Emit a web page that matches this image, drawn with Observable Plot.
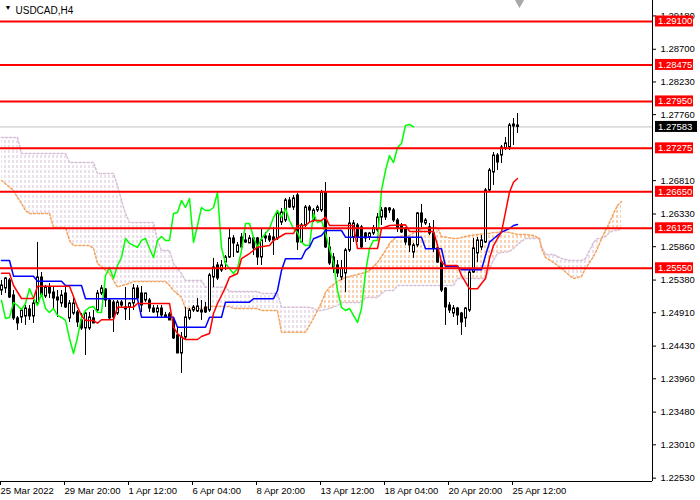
<!DOCTYPE html>
<html>
<head>
<meta charset="utf-8">
<script src="https://cdn.jsdelivr.net/npm/d3@7"></script>
<script src="https://cdn.jsdelivr.net/npm/@observablehq/plot@0.6"></script>
<style>
  body { margin: 0; background: #fff; }
  #chart { width: 700px; height: 500px; }
</style>
</head>
<body>
<div id="chart"></div>
<script>
// USDCAD H4 candles, one value per bar (bar 0 = 25 Mar 2022)
const open = [1.25230,1.25259,1.25374,1.25158,1.24828,1.24842,1.24856,1.24957,1.24856,1.25043,
  1.25417,1.25144,1.25273,1.25201,1.25129,1.25043,1.25187,1.24828,1.24899,1.24914,
  1.24799,1.24684,1.24684,1.24828,1.24942,1.25187,1.25244,1.25086,1.25057,1.24899,
  1.25057,1.24986,1.24986,1.25043,1.25259,1.25187,1.25086,1.25086,1.24971,1.24914,
  1.24971,1.24871,1.24885,1.24799,1.24583,1.24324,1.24554,1.24828,1.24942,1.24928,
  1.24942,1.24986,1.24942,1.25417,1.25590,1.25518,1.25633,1.25705,1.25979,1.25777,
  1.25993,1.25921,1.25907,1.25979,1.25979,1.25705,1.25979,1.26007,1.25993,1.25979,
  1.26208,1.26237,1.26525,1.26424,1.26597,1.25921,1.26165,1.26424,1.26237,1.26381,
  1.26381,1.26640,1.25849,1.25705,1.25590,1.25417,1.25475,1.25806,1.25993,1.26165,
  1.26137,1.26050,1.25993,1.26050,1.26094,1.26280,1.26410,1.26381,1.26381,1.26237,
  1.26165,1.26122,1.25979,1.25777,1.25878,1.26338,1.26194,1.26137,1.26050,1.25835,
  1.25633,1.25259,1.25014,1.24899,1.24971,1.24899,1.24828,1.24942,1.25489,1.25763,
  1.25849,1.25921,1.26669,1.26928,1.27172,1.27172,1.27273,1.27287,1.27589,1.27604];
const high = [1.25374,1.25417,1.25403,1.25230,1.24856,1.24971,1.25014,1.25014,1.25086,1.25921,
  1.25489,1.25302,1.25331,1.25273,1.25230,1.25230,1.25273,1.25086,1.25115,1.24942,
  1.24899,1.24914,1.24914,1.24942,1.25230,1.25302,1.25259,1.25115,1.25086,1.25086,
  1.25086,1.25273,1.25057,1.25316,1.25302,1.25288,1.25187,1.25115,1.25014,1.25014,
  1.25014,1.24914,1.24914,1.24828,1.24698,1.24626,1.24986,1.24971,1.25014,1.25115,
  1.25086,1.25057,1.25475,1.25691,1.25633,1.25662,1.25734,1.26122,1.26021,1.25921,
  1.26050,1.26050,1.26021,1.25993,1.25993,1.26122,1.26065,1.26050,1.26137,1.26352,
  1.26410,1.26554,1.26568,1.26597,1.26626,1.26194,1.26453,1.26453,1.26410,1.26453,
  1.26669,1.26784,1.25993,1.25763,1.25662,1.25662,1.25835,1.26424,1.26237,1.26194,
  1.26165,1.26065,1.26065,1.26165,1.26338,1.26424,1.26424,1.26424,1.26410,1.26266,
  1.26194,1.26137,1.25993,1.25907,1.26352,1.26467,1.26266,1.26194,1.26237,1.25878,
  1.25662,1.25273,1.25057,1.25014,1.24986,1.24914,1.24986,1.25518,1.25979,1.25993,
  1.26021,1.26698,1.26986,1.27215,1.27201,1.27316,1.27431,1.27633,1.27704,1.27776];
const low = [1.25158,1.25187,1.25115,1.24799,1.24655,1.24756,1.24727,1.24799,1.24756,1.25014,
  1.25129,1.25115,1.25115,1.24971,1.24842,1.24986,1.24971,1.24770,1.24871,1.24698,
  1.24655,1.24295,1.24655,1.24756,1.24914,1.25158,1.24986,1.24799,1.24626,1.24871,
  1.24986,1.24799,1.24799,1.24942,1.25086,1.24914,1.25057,1.24914,1.24899,1.24842,
  1.24842,1.24828,1.24799,1.24525,1.24324,1.24036,1.24511,1.24799,1.24914,1.24914,
  1.24799,1.24899,1.24914,1.25273,1.25374,1.25489,1.25518,1.25691,1.25705,1.25763,
  1.25806,1.25907,1.25907,1.25734,1.25590,1.25590,1.25921,1.25921,1.25734,1.25950,
  1.26165,1.26208,1.26410,1.26381,1.25806,1.25907,1.26137,1.26208,1.26208,1.26352,
  1.26352,1.25835,1.25590,1.25475,1.25417,1.25374,1.25201,1.25777,1.25921,1.25921,
  1.25835,1.25921,1.25950,1.26021,1.26065,1.26165,1.26237,1.26338,1.26208,1.26065,
  1.26050,1.25878,1.25777,1.25691,1.25849,1.26137,1.26165,1.26021,1.25777,1.25619,
  1.25201,1.24727,1.24899,1.24842,1.24727,1.24583,1.24698,1.24914,1.25475,1.25633,
  1.25806,1.25907,1.26640,1.26741,1.26956,1.27057,1.27244,1.27244,1.27316,1.27489];
const close = [1.25302,1.25403,1.25129,1.24828,1.24756,1.24942,1.24971,1.24856,1.25043,1.25417,
  1.25158,1.25273,1.25187,1.25115,1.25086,1.25158,1.24986,1.25043,1.25043,1.24770,
  1.24684,1.24899,1.24842,1.24756,1.25187,1.25259,1.25086,1.24828,1.24842,1.25057,
  1.25014,1.24957,1.25043,1.25259,1.25115,1.25014,1.25187,1.24971,1.24914,1.24971,
  1.24871,1.24842,1.24799,1.24540,1.24324,1.24554,1.24842,1.24942,1.24986,1.25000,
  1.24914,1.24914,1.25446,1.25561,1.25403,1.25590,1.25705,1.25979,1.25907,1.25878,
  1.25849,1.25950,1.25979,1.25835,1.25705,1.25950,1.26007,1.25950,1.25950,1.26338,
  1.26352,1.26525,1.26424,1.26554,1.25921,1.26165,1.26424,1.26381,1.26381,1.26424,
  1.26640,1.25849,1.25619,1.25547,1.25475,1.25547,1.25806,1.26194,1.26194,1.25993,
  1.25849,1.25979,1.26050,1.26122,1.26280,1.26381,1.26280,1.26410,1.26237,1.26122,
  1.26065,1.25921,1.25878,1.25878,1.26338,1.26208,1.26237,1.26050,1.25835,1.25633,
  1.25230,1.24986,1.24942,1.24971,1.24871,1.24770,1.24971,1.25489,1.25835,1.25950,
  1.25950,1.26669,1.26956,1.27172,1.27071,1.27287,1.27345,1.27604,1.27618,1.27583];

// Ichimoku lines (bar index, price)
const tenkanBar = [0,2,3,5,8,9,17,18,19,20,21,23,24,25,28,29,33,34,42,43,44,45,46,49,50,52,53,54,55,56,57,59,60,62,64,67,68,71,73,74,76,77,78,80,81,82,88,89,94,95,97,101,102,108,109,110,111,114,115,117,119,120,121,122,123,124,125,126,127,128,129];
const tenkanVal = [1.25479,1.25479,1.25302,1.25115,1.25115,1.25292,1.25292,1.25144,1.24990,1.24870,1.24798,1.24798,1.24760,1.24809,1.24809,1.24990,1.24990,1.25043,1.25043,1.24702,1.24611,1.24558,1.24525,1.24525,1.24568,1.24611,1.24899,1.25043,1.25158,1.25278,1.25421,1.25475,1.25690,1.25762,1.25853,1.25877,1.25949,1.26050,1.26050,1.26165,1.26165,1.26213,1.26237,1.26237,1.26285,1.26165,1.26165,1.25834,1.25834,1.26122,1.26165,1.26175,1.26079,1.26079,1.25877,1.25637,1.25590,1.25590,1.25446,1.25254,1.25254,1.25331,1.25403,1.25690,1.25877,1.25978,1.26069,1.26356,1.26644,1.26788,1.26841];
const kijunBar = [0,2,3,8,9,15,16,20,21,34,35,43,44,51,52,55,56,62,63,68,69,70,71,75,76,77,78,80,81,85,86,105,106,110,111,114,115,120,121,122,123,125,127,128,129];
const kijunVal = [1.25662,1.25662,1.25436,1.25436,1.25364,1.25364,1.25302,1.25302,1.25111,1.25111,1.24846,1.24846,1.24702,1.24702,1.24846,1.24846,1.25062,1.25062,1.25111,1.25111,1.25230,1.25518,1.25686,1.25686,1.25806,1.25853,1.25974,1.26021,1.26093,1.26093,1.25997,1.25997,1.25830,1.25830,1.25575,1.25575,1.25528,1.25528,1.25734,1.25925,1.25974,1.26069,1.26122,1.26165,1.26180];
const kumoBar = [0,3,4,5,6,7,12,13,16,17,18,22,23,24,27,28,29,30,31,32,33,38,39,40,41,42,43,45,46,50,51,52,56,57,58,64,65,69,70,76,77,78,79,80,81,82,84,85,86,90,91,92,94,95,96,97,98,99,102,104,106,109,110,113,114,117,121,122,123,124,125,127,128,129,130,131,133,134,134.5,135,136,138,140,142,143,145,146,147,148,149,150,151,152,153,154,155];
const spanA = [1.26813,1.26669,1.26568,1.26482,1.26381,1.26338,1.26338,1.26136,1.26136,1.25949,1.25877,1.25877,1.25834,1.25619,1.25475,1.25374,1.25278,1.25302,1.25316,1.25331,1.25360,1.25360,1.25360,1.25360,1.25360,1.25302,1.25230,1.25129,1.24971,1.24971,1.24971,1.25000,1.25000,1.25000,1.24971,1.24971,1.24942,1.24942,1.24630,1.24630,1.24727,1.24827,1.24942,1.25057,1.25201,1.25273,1.25360,1.25388,1.25417,1.25475,1.25489,1.25518,1.25633,1.25719,1.25806,1.25906,1.25964,1.26007,1.26021,1.26093,1.26136,1.26136,1.26007,1.25978,1.25978,1.26021,1.26050,1.26050,1.26064,1.26064,1.26079,1.26064,1.26050,1.26036,1.26036,1.26036,1.26021,1.25993,1.25978,1.25834,1.25705,1.25633,1.25547,1.25446,1.25403,1.25432,1.25547,1.25633,1.25719,1.25834,1.25978,1.26093,1.26208,1.26338,1.26453,1.26510];
const spanB = [1.27431,1.27431,1.27431,1.27201,1.27201,1.27201,1.27201,1.27201,1.27201,1.27071,1.27071,1.27071,1.27071,1.26913,1.26913,1.26913,1.26741,1.26525,1.26338,1.26208,1.26208,1.26208,1.25949,1.25806,1.25806,1.25806,1.25619,1.25475,1.25374,1.25374,1.25278,1.25278,1.25278,1.25216,1.25216,1.25216,1.25187,1.25187,1.24990,1.24990,1.24985,1.24971,1.24942,1.24942,1.24957,1.24971,1.25014,1.25057,1.25057,1.25057,1.25129,1.25129,1.25129,1.25187,1.25230,1.25230,1.25230,1.25302,1.25302,1.25302,1.25302,1.25302,1.25302,1.25302,1.25403,1.25403,1.25403,1.25547,1.25662,1.25762,1.25777,1.25791,1.25834,1.25892,1.25935,1.25978,1.25978,1.25978,1.25978,1.25863,1.25748,1.25748,1.25690,1.25662,1.25662,1.25662,1.25690,1.25806,1.25921,1.25978,1.25978,1.26007,1.26064,1.26093,1.26093,1.26122];

// horizontal levels, price axis, time axis
const levels = [1.29100, 1.28475, 1.27950, 1.27275, 1.26650, 1.26125, 1.25550];
const yTicks = [1.29180, 1.28700, 1.28230, 1.27760, 1.26810, 1.26330, 1.25860, 1.25380, 1.24910, 1.24430, 1.23960, 1.23480, 1.23010, 1.22530];
const xTickBars = [0, 16, 32, 48, 64, 80, 96, 112, 128];
const xTickLabels = ["25 Mar 2022", "29 Mar 20:00", "1 Apr 12:00", "6 Apr 04:00", "8 Apr 20:00", "13 Apr 12:00", "18 Apr 04:00", "20 Apr 20:00", "25 Apr 12:00"];
const symbol = "USDCAD,H4";

const xDomain = [-0.25, 162.75];
const yDomain = [1.22482, 1.29402];

const candles = close.map((c, i) => ({i, o: open[i], h: high[i], l: low[i], c}));
const bid = close[close.length - 1];
const chikouShift = 26;
const xLabelOf = new Map(xTickBars.map((b, i) => [b, xTickLabels[i]]));

// split the cloud where the spans cross so each piece gets one colour
const cloud = [];
let seg = 0;
kumoBar.forEach((bar, i) => {
  const row = {bar, a: spanA[i], b: spanB[i]};
  cloud.push({...row, seg});
  if (row.a === row.b && i > 0 && i < kumoBar.length - 1) { seg++; cloud.push({...row, seg}); }
});
const segUp = new Map(d3.groups(cloud, d => d.seg).map(([s, v]) => [s, d3.sum(v, d => d.a - d.b) > 0]));
const cloudUp = cloud.filter(d => segUp.get(d.seg));
const cloudDn = cloud.filter(d => !segUp.get(d.seg));

const chart = Plot.plot({
  width: 700,
  height: 500,
  marginLeft: 0,
  marginRight: 48,
  marginTop: 0,
  marginBottom: 19,
  style: {fontFamily: "'Liberation Sans', Arial, sans-serif", fontSize: "9.5px", background: "white", color: "black"},
  x: {domain: xDomain, label: null},
  y: {domain: yDomain, label: null},
  marks: [
    Plot.areaY(cloudDn, {x: "bar", y1: "a", y2: "b", z: "seg", fill: "url(#kumoDn)"}),
    Plot.areaY(cloudUp, {x: "bar", y1: "a", y2: "b", z: "seg", fill: "url(#kumoUp)"}),
    Plot.line(kumoBar, {x: kumoBar, y: spanB, stroke: "#D8BFD8", strokeDasharray: "2,2"}),
    Plot.line(kumoBar, {x: kumoBar, y: spanA, stroke: "#F4A460", strokeDasharray: "2,2"}),
    Plot.ruleY([bid], {stroke: "#C0C0C0"}),
    Plot.ruleX(candles, {x: "i", y1: "l", y2: "h", stroke: "black"}),
    Plot.rect(candles, {x1: d => d.i - 0.25, x2: d => d.i + 0.25, y1: "o", y2: "c", dx: 0.5,
      fill: d => d.c >= d.o ? "white" : "black", stroke: "black"}),
    Plot.line(close.slice(chikouShift), {x: (d, i) => i, y: d => d, stroke: "#00FF00"}),
    Plot.line(kijunBar, {x: kijunBar, y: kijunVal, stroke: "#0000FF"}),
    Plot.line(tenkanBar, {x: tenkanBar, y: tenkanVal, stroke: "#FF0000"}),
    Plot.ruleY(levels, {stroke: "#FF0000", strokeWidth: 2}),
    Plot.ruleX([xDomain[1]], {stroke: "black"}),
    Plot.ruleY([yDomain[0]], {stroke: "black"}),
    Plot.axisY({anchor: "right", ticks: yTicks, tickFormat: d => d.toFixed(5), tickSize: 3, tickPadding: 5, label: null}),
    Plot.axisX({anchor: "bottom", ticks: xTickBars, tickFormat: d => xLabelOf.get(d), tickSize: 4,
      tickPadding: 2, textAnchor: "start", dx: -1, label: null}),
    Plot.text([symbol], {text: d => d, frameAnchor: "top-left", dx: 15, dy: 6, textAnchor: "start", lineAnchor: "top", fontSize: 10}),
    Plot.text(["▼"], {text: d => d, frameAnchor: "top-left", dx: 4, dy: 5, textAnchor: "start", lineAnchor: "top", fontSize: 7}),
    Plot.dot([bid], {x: close.length - 0.5, frameAnchor: "top", symbol: "triangle", rotate: 180, r: 3.5, dy: 2, fill: "#A8A8A8", stroke: null})
  ]
});

// dotted-hatch fills for the cloud
const defs = d3.select(chart).insert("defs", ":first-child");
[["kumoUp", "#F4A460"], ["kumoDn", "#D8BFD8"]].forEach(([id, color]) => {
  defs.append("pattern").attr("id", id).attr("patternUnits", "userSpaceOnUse")
    .attr("width", 4).attr("height", 5)
    .append("rect").attr("x", 0.5).attr("y", 0).attr("width", 1).attr("height", 3).attr("fill", color);
});

// price tags on the right axis
const ys = chart.scale("y");
const tags = d3.select(chart).append("g").attr("font-size", "9.5px").attr("text-anchor", "start");
const tag = (v, bg, w) => {
  const y = ys.apply(v);
  tags.append("rect").attr("x", 655).attr("y", y - 5.5).attr("width", w).attr("height", 11).attr("fill", bg);
  tags.append("text").attr("x", 658).attr("y", y).attr("dy", "0.35em").attr("fill", "white").text(v.toFixed(5));
};
levels.forEach(v => tag(v, "#FF0000", 38));
tag(bid, "black", 42);

d3.select("#chart").append(() => chart);
</script>
</body>
</html>
